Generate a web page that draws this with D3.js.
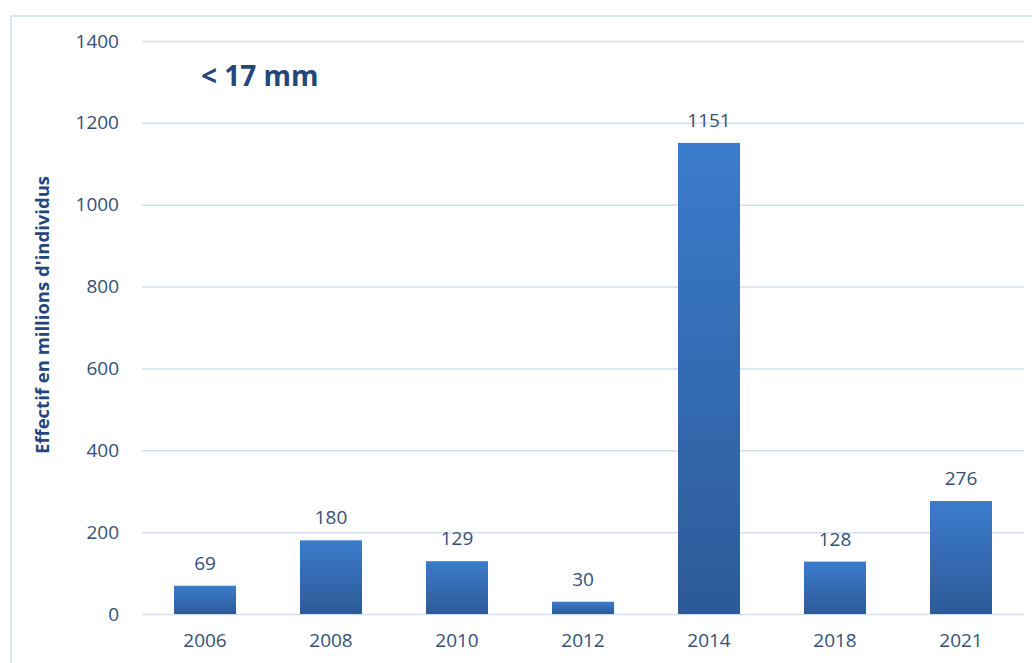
<!DOCTYPE html>
<html>
<head>
<meta charset="utf-8">
<script src="https://cdn.jsdelivr.net/npm/d3@7"></script>
<style>
  html, body { margin: 0; padding: 0; background: #fff; }
  svg { display: block; }
  text { font-family: "Open Sans", "Noto Sans", sans-serif; }
</style>
</head>
<body>
<svg id="chart" width="1032" height="663"></svg>
<script>
const years = ["2006", "2008", "2010", "2012", "2014", "2018", "2021"];
const values = [69, 180, 129, 30, 1151, 128, 276];
const yTicks = [0, 200, 400, 600, 800, 1000, 1200, 1400];
const title = "< 17 mm";
const yTitle = "Effectif en millions d'individus";

const svg = d3.select("#chart");
const W = 1032, H = 663;
const plot = { left: 142, right: 1024, top: 41, bottom: 614 };

// outer frame
svg.append("rect")
  .attr("x", 11).attr("y", 16)
  .attr("width", W + 20).attr("height", H + 20)
  .attr("fill", "#fff")
  .attr("stroke", "#dbe5f3").attr("stroke-width", 2);

const x = d3.scaleBand().domain(years)
  .range([plot.left, plot.right])
  .paddingInner(0.508).paddingOuter(0.254);

const y = d3.scaleLinear().domain([0, 1400]).range([plot.bottom, plot.top]);

// bar gradient
const defs = svg.append("defs");
const grad = defs.append("linearGradient")
  .attr("id", "barGrad").attr("x1", 0).attr("y1", 0).attr("x2", 0).attr("y2", 1);
grad.append("stop").attr("offset", "0%").attr("stop-color", "#3b7ccc");
grad.append("stop").attr("offset", "100%").attr("stop-color", "#2d5a98");

// gridlines
const grid = svg.append("g")
  .call(d3.axisLeft(y).tickValues(yTicks).tickSize(-(plot.right - plot.left)).tickFormat(""))
  .attr("transform", `translate(${plot.left},0)`);
grid.select(".domain").remove();
grid.selectAll("line").attr("stroke", "#d3def0").attr("stroke-width", 1.5);

// y axis labels
const yAxis = svg.append("g")
  .attr("transform", `translate(${plot.left},0)`)
  .call(d3.axisLeft(y).tickValues(yTicks).tickSize(0).tickPadding(23).tickFormat(d3.format("d")));
yAxis.select(".domain").remove();
yAxis.selectAll("text")
  .attr("font-family", "'Open Sans', sans-serif")
  .attr("font-size", 19).attr("fill", "#34507a");

// x axis labels
const xAxis = svg.append("g")
  .attr("transform", `translate(0,${plot.bottom})`)
  .call(d3.axisBottom(x).tickSize(0).tickPadding(20));
xAxis.select(".domain").remove();
xAxis.selectAll("text")
  .attr("font-family", "'Open Sans', sans-serif")
  .attr("font-size", 19).attr("fill", "#34507a");

// bars
const data = years.map((yr, i) => ({ year: yr, value: values[i] }));
svg.append("g").selectAll("rect")
  .data(data).join("rect")
  .attr("x", d => x(d.year))
  .attr("width", x.bandwidth())
  .attr("y", d => y(d.value))
  .attr("height", d => y(0) - y(d.value))
  .attr("fill", "url(#barGrad)");

// value labels
svg.append("g").selectAll("text")
  .data(data).join("text")
  .attr("x", d => x(d.year) + x.bandwidth() / 2)
  .attr("y", d => y(d.value) - 16)
  .attr("text-anchor", "middle")
  .attr("font-size", 19).attr("fill", "#34507a")
  .text(d => d.value);

// title
svg.append("text")
  .attr("x", 201).attr("y", 86)
  .attr("font-size", 28).attr("font-weight", "bold")
  .attr("fill", "#24467a")
  .text(title);

// y axis title
svg.append("text")
  .attr("transform", `translate(49,315) rotate(-90)`)
  .attr("text-anchor", "middle")
  .attr("font-size", 18.5).attr("font-weight", "bold")
  .attr("fill", "#24467a")
  .text(yTitle);
</script>
</body>
</html>
